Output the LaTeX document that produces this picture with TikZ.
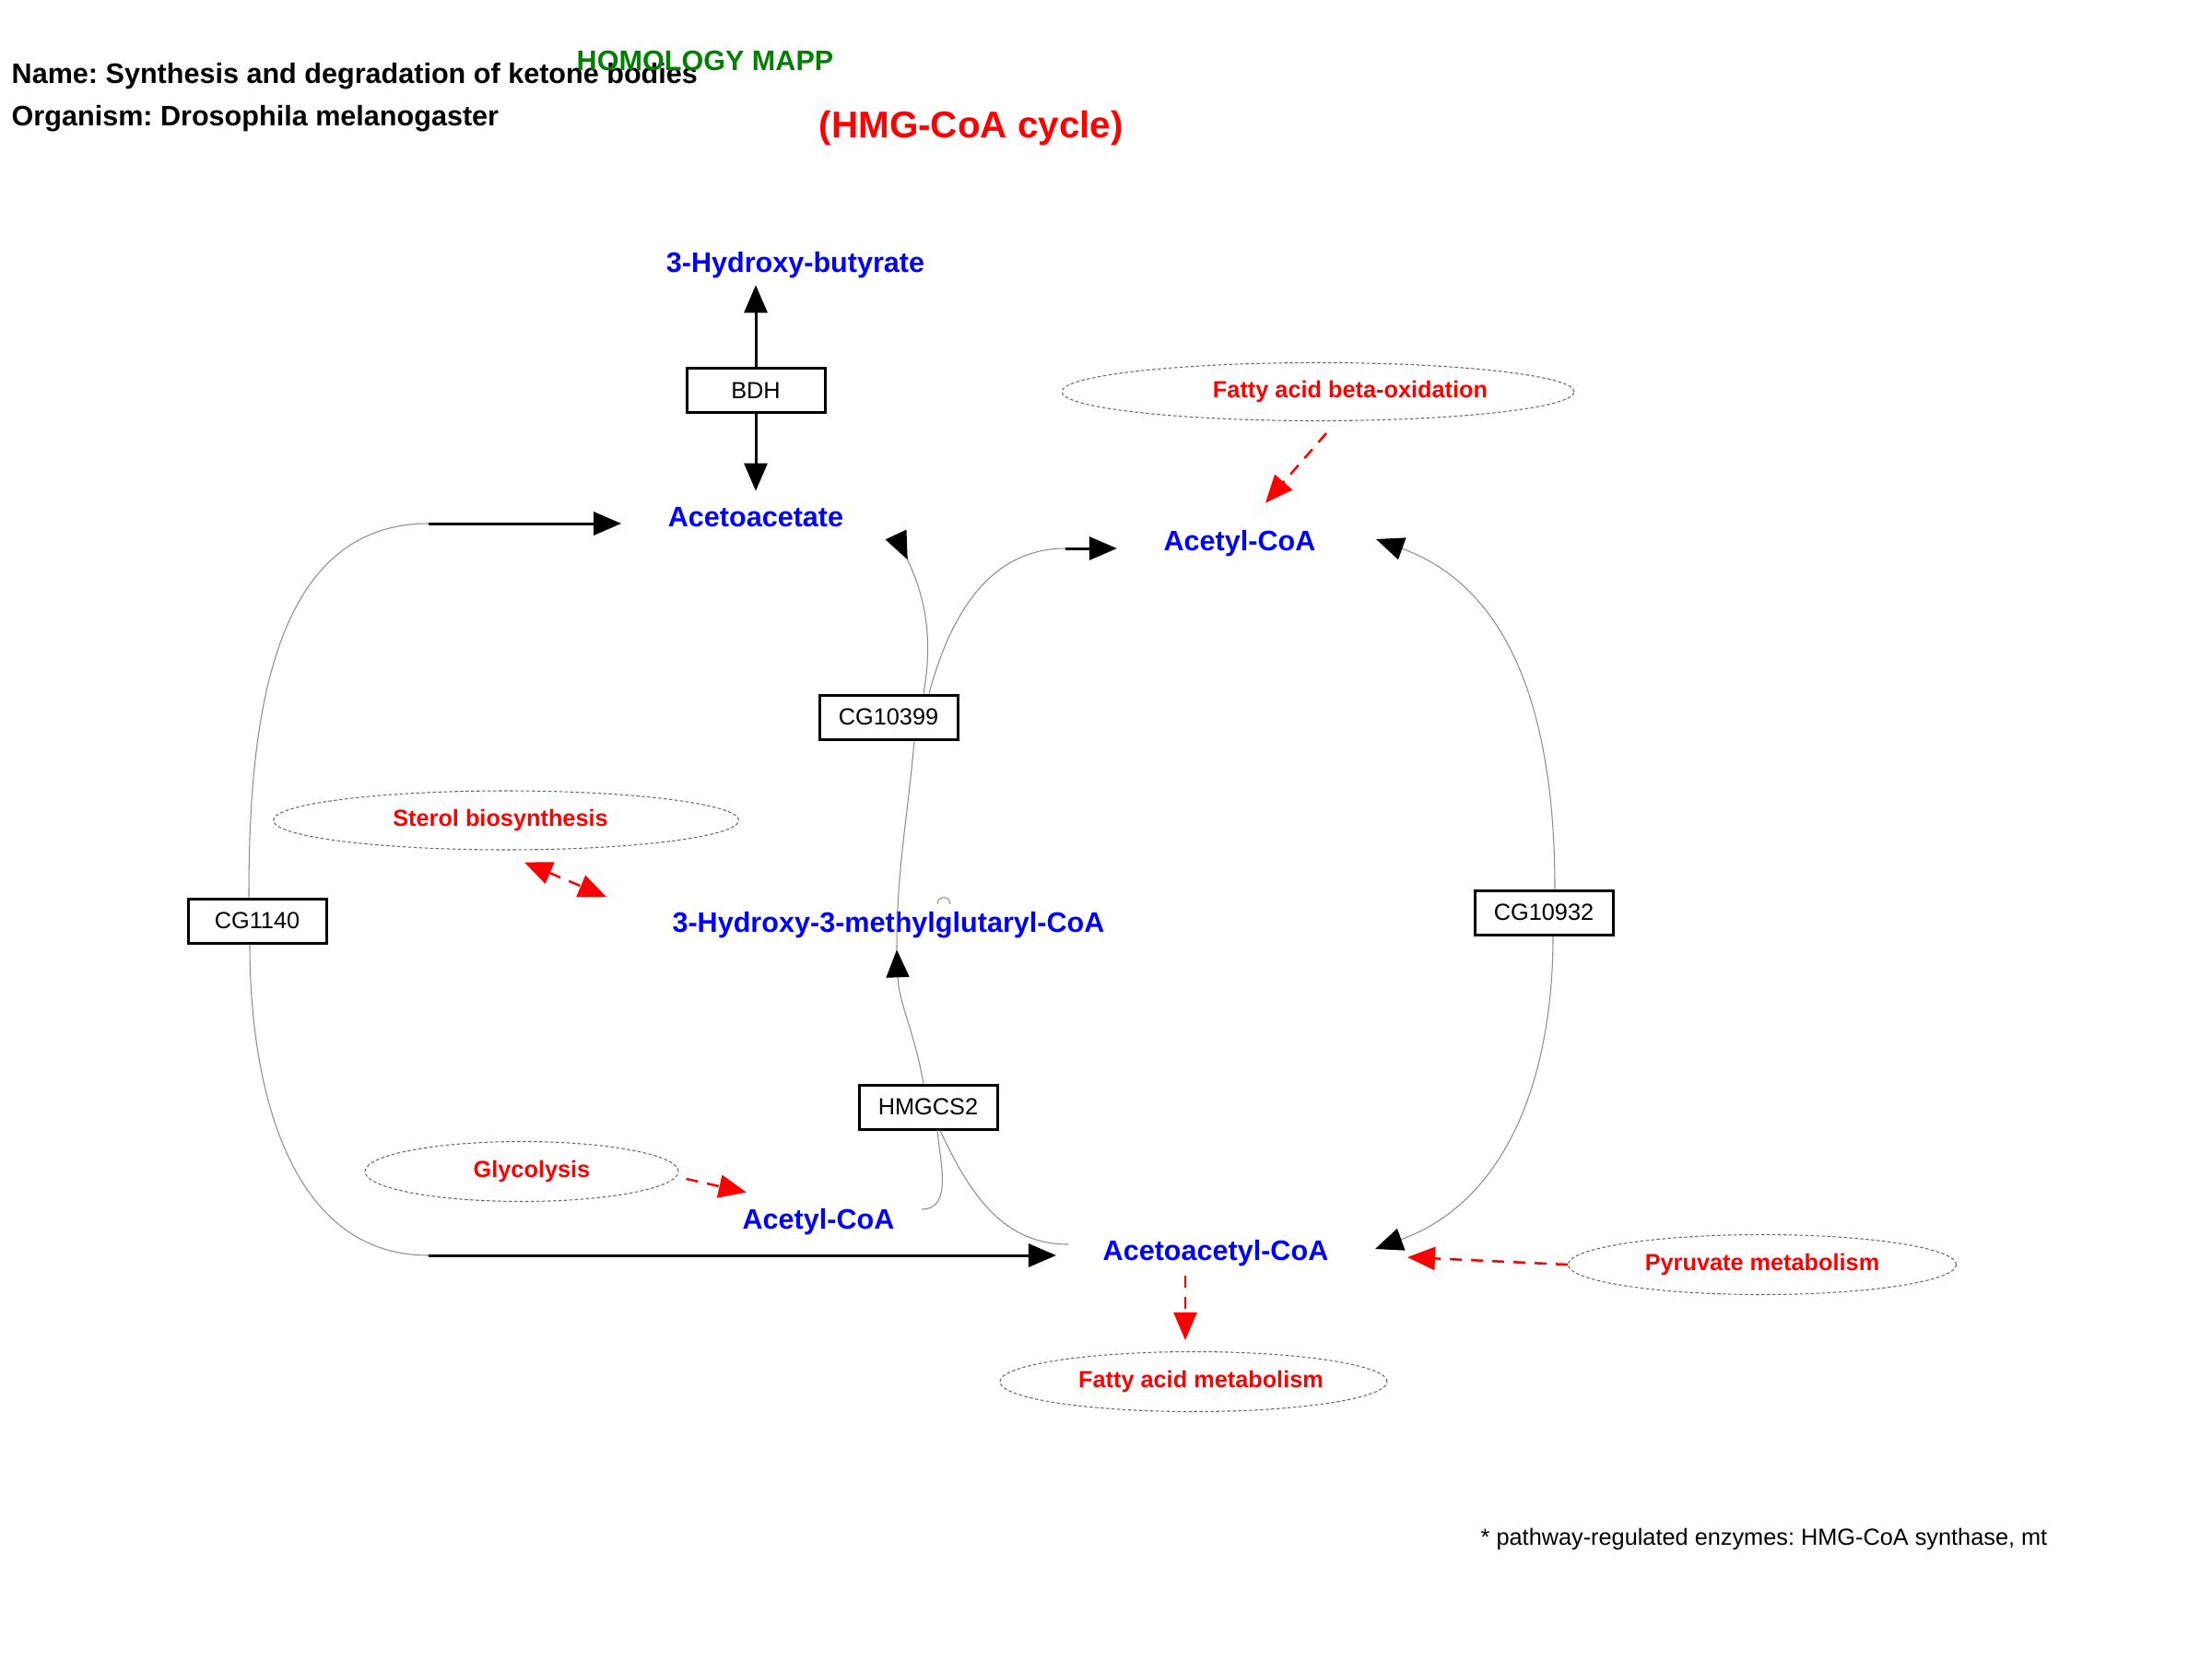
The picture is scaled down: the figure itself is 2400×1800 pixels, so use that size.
\documentclass[tikz,border=0pt]{standalone}
\usepackage{fontspec}
\setmainfont{Liberation Sans}
\usepackage{tikz}
\usetikzlibrary{arrows.meta,calc,positioning,shapes.geometric}
\definecolor{cpdblue}{RGB}{0,0,255}
\definecolor{mapred}{RGB}{255,0,0}
\definecolor{homgreen}{RGB}{0,128,0}
\frenchspacing

\begin{document}
\begin{tikzpicture}[x=0.1mm,y=-0.1mm,
  cpd/.style={font=\fontsize{8.7}{10}\selectfont\bfseries,text=cpdblue,inner xsep=5mm,inner ysep=1.3mm,text height=0.72em,text depth=0pt},
  enz/.style={draw,line width=0.3mm,minimum width=15mm,minimum height=4.8mm,inner sep=0pt,font=\fontsize{7.2}{9}\selectfont},
  pmap/.style={ellipse,draw=black!60,dash pattern=on 1pt off 0.7pt,line width=0.3pt,inner sep=0pt,text=mapred,font=\fontsize{7.2}{9}\selectfont\bfseries},
  hdr/.style={anchor=base west,inner sep=0pt,font=\fontsize{8.7}{10}\selectfont\bfseries},
  rxn/.style={line width=0.3mm,-{Triangle[length=3mm,width=2.5mm]}},
  lnk/.style={black!45,line width=0.3pt},
  tipb/.style={-{Triangle[length=3mm,width=2.5mm,color=black]}},
  pref/.style={mapred,line width=0.25mm,dash pattern=on 1.3mm off 1mm,-{Triangle[length=3mm,width=2.5mm]}}]
  \useasboundingbox (0,0) rectangle (2400,1800);

  % header
  \node[hdr] (name) at (12,91) {Name: Synthesis and degradation of ketone bodies};
  \node[hdr] (org) at (12,137) {Organism: Drosophila melanogaster};
  \node[hdr,text=homgreen] (homol) at (625,77) {HOMOLOGY MAPP};
  \node[hdr,text=mapred,font=\fontsize{11.5}{13}\selectfont\bfseries] (cycle) at (888,150) {(HMG-CoA cycle)};
  \node[hdr,font=\fontsize{7.2}{9}\selectfont] (note) at (1606,1676) {* pathway-regulated enzymes: HMG-CoA synthase, mt};

  % compounds
  \node[cpd] (hb) at (863,283) {3-Hydroxy-butyrate};
  \node[cpd] (acac) at (820,559) {Acetoacetate};
  \node[cpd] (acoa1) at (1345,585) {Acetyl-CoA};
  \node[cpd] (hmg) at (964,999) {3-Hydroxy-3-methylglutaryl-CoA};
  \node[cpd] (acoa2) at (888,1321) {Acetyl-CoA};
  \node[cpd] (acacoa) at (1319,1355) {Acetoacetyl-CoA};

  % enzymes
  \node[enz] (bdh) at (820,424) {BDH};
  \node[enz] (cg10399) at (964,778) {CG10399};
  \node[enz] (cg1140) at (279,999) {CG1140};
  \node[enz] (cg10932) at (1675,990) {CG10932};
  \node[enz] (hmgcs2) at (1007,1201) {HMGCS2};

  % linked maps
  \node[pmap,minimum width=55.6mm,minimum height=6.3mm] (betaox) at (1430,425) {\hspace*{7mm}Fatty acid beta-oxidation};
  \node[pmap,minimum width=50.5mm,minimum height=6.4mm] (sterol) at (549,890) {Sterol biosynthesis\hspace*{1.2mm}};
  \node[pmap,minimum width=34mm,minimum height=6.5mm] (glyc) at (566,1271) {\hspace*{2.2mm}Glycolysis};
  \node[pmap,minimum width=42.1mm,minimum height=6.5mm] (pyr) at (1912,1372) {Pyruvate metabolism};
  \node[pmap,minimum width=42mm,minimum height=6.5mm] (fam) at (1295,1499) {\hspace*{1.6mm}Fatty acid metabolism};

  % BDH
  \draw[rxn] (bdh.north) -- (bdh.north |- hb.south);
  \draw[rxn] (bdh.south) -- (acac.north);

  % CG1140
  \coordinate (c1140a) at (465,568);
  \coordinate (c1140b) at (465,1362);
  \draw[lnk] ($(cg1140.north)+(-9,0)$) to[out=90,in=180] (c1140a);
  \draw[lnk] ($(cg1140.south)+(-8,0)$) to[out=-90,in=180] (c1140b);
  \draw[rxn] (c1140a) -- (c1140a -| acac.west);
  \draw[rxn] (c1140b) -- (c1140b -| acacoa.west);

  % CG10399
  \coordinate (c10399a) at (972,580);
  \coordinate (c10399b) at (1156,595);
  \draw[lnk,-{Triangle[length=3mm,width=2.5mm,color=black,reversed]}] ($(cg10399.north)+(38,0)$) to[out=80,in=-65] (c10399a);
  \draw[lnk] ($(cg10399.north)+(44,0)$) to[out=75,in=180] (c10399b);
  \draw[rxn] (c10399b) -- (c10399b -| acoa1.west);
  \draw[lnk] ($(cg10399.south)+(28,0)$) to[out=-95,in=90] ($(hmg.south)+(9,5)$);
  \draw[lnk] ($(hmg.north)+(53,8)$) arc[start angle=180,end angle=0,radius=0.7mm];

  % HMGCS2
  \draw[lnk,tipb] ($(hmgcs2.north)+(-5,0)$) to[out=100,in=-88] ($(hmg.south)+(9,5)$);
  \draw[lnk] ($(hmgcs2.south)+(10,0)$) to[out=-85,in=0] ($(acoa2.east)+(-21,-9)$);
  \draw[lnk] ($(hmgcs2.south)+(13,0)$) to[out=-65,in=180] ($(acacoa.west)+(13,-5)$);

  % CG10932
  \draw[lnk,tipb] ($(cg10932.north)+(12,0)$) to[out=90,in=-20] ($(acoa1.east)+(15,0)$);
  \draw[lnk,tipb] ($(cg10932.south)+(10,0)$) to[out=-90,in=20] (acacoa.east);

  % map links
  \draw[pref] ($(betaox.south)+(9,13)$) -- ($(acoa1.north)+(28,-13)$);
  \draw[pref,{Triangle[length=3mm,width=2.5mm]}-{Triangle[length=3mm,width=2.5mm]}] ($(sterol.south)+(20,13)$) -- ($(hmg.west)+(-21,-26)$);
  \draw[pref] ($(glyc.east)+(8,8)$) -- ($(acoa2.north west)+(55,-1)$);
  \draw[pref] ($(acacoa.south)+(-33,3)$) -- ($(fam.north)+(-9,-12)$);
  \draw[pref] (pyr.west) -- ($(acacoa.east)+(35,9)$);
\end{tikzpicture}
\end{document}
